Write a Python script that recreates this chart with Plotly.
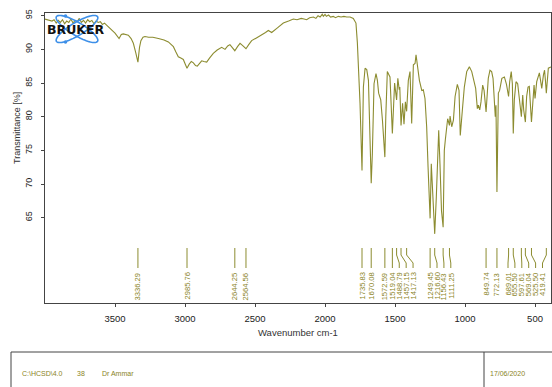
import numpy as np
import plotly.graph_objects as go

# ---- spectrum (wavenumber cm-1, transmittance %) ----
wavenumber = [
    4000, 3975, 3950, 3935, 3920, 3905, 3890, 3875, 3860, 3845, 3830, 3815, 3800,
    3785, 3770, 3755, 3740, 3725, 3710, 3695, 3680, 3665, 3650, 3635, 3620, 3605,
    3590, 3575, 3559, 3530, 3500, 3471, 3455, 3441, 3420, 3405, 3385, 3369, 3352,
    3336.29, 3325, 3315, 3300, 3286, 3260, 3230, 3190, 3150, 3119, 3100, 3083,
    3065, 3048, 3030, 3012, 2998, 2985.76, 2970, 2955, 2940, 2925, 2912, 2895,
    2881, 2865, 2845, 2825, 2798, 2770, 2738, 2714, 2695, 2679, 2665, 2644.25,
    2625, 2607, 2590, 2564.56, 2545, 2524, 2490, 2452, 2425, 2405, 2381, 2340,
    2298, 2260, 2226, 2200, 2170, 2150, 2131, 2110, 2083, 2065, 2050, 2035, 2020,
    2012, 2000, 1990, 1975, 1960, 1941, 1925, 1905, 1885, 1865, 1845, 1821, 1798,
    1779, 1769, 1762, 1750, 1735.83, 1726, 1714, 1702, 1690, 1670.08, 1662, 1650,
    1636, 1626, 1617, 1602, 1590, 1572.59, 1566, 1555, 1543, 1536, 1519.04, 1512,
    1503, 1488.79, 1480, 1470, 1466, 1457.15, 1446, 1436, 1426, 1417.13, 1405,
    1393, 1381, 1369, 1357, 1350, 1338, 1326, 1309, 1298, 1286, 1274, 1264,
    1249.45, 1241, 1231, 1216.60, 1205, 1188, 1179, 1168, 1156.43, 1148, 1141,
    1131, 1124, 1111.25, 1107, 1095, 1083, 1071, 1055, 1043, 1034, 1019, 1005,
    988, 969, 952, 934, 924, 912, 905, 895, 886, 874, 864, 849.74, 842, 834, 822,
    810, 800, 791, 784, 779, 772.13, 762, 753, 737, 719, 704, 689.01, 681, 670,
    662, 655.50, 648, 636, 624, 609, 597.61, 588, 581, 569.04, 560, 550, 541,
    525.50, 516, 507, 500, 488, 469, 452, 440, 432, 425, 419.41, 405, 386,
]
transmittance = [
    94.5, 94.4, 94.2, 94.4, 93.9, 94.3, 94.0, 94.4, 93.8, 94.2, 94.0, 94.5, 93.9,
    94.3, 94.1, 94.6, 94.0, 94.3, 93.9, 94.4, 94.1, 94.3, 93.8, 94.2, 94.0, 94.1,
    93.7, 93.9, 93.6, 93.0, 92.4, 91.6, 92.2, 92.3, 92.2, 92.1, 91.6, 90.9, 89.5,
    88.1, 90.3, 91.3, 91.8, 91.9, 91.8, 91.8, 91.6, 91.4, 91.1, 90.8, 90.4,
    89.6, 88.9, 88.7, 88.5, 87.8, 87.2, 87.8, 88.2, 88.0, 87.6, 87.5, 88.0,
    88.3, 88.2, 88.1, 88.7, 89.4, 89.9, 90.3, 90.0, 90.5, 90.7, 90.3, 89.8,
    90.4, 90.9, 90.6, 90.1, 90.7, 91.3, 91.7, 92.1, 92.5, 92.8, 92.5, 93.2,
    93.9, 94.2, 94.5, 94.4, 94.6, 94.5, 94.4, 94.7, 94.8, 94.6, 95.0, 94.8, 95.2,
    94.9, 95.2, 94.9, 95.1, 94.8, 94.9, 94.7, 94.9, 94.8, 94.9, 94.8, 94.8, 94.6,
    93.9, 91.0, 88.4, 82.0, 72.0, 84.4, 87.2, 87.0, 85.4, 70.1, 74.5, 84.9,
    86.4, 85.4, 83.5, 82.5, 79.5, 74.0, 80.0, 86.7, 86.2, 85.9, 77.5, 81.5,
    85.0, 82.5, 85.7, 84.0, 84.4, 78.7, 82.0, 78.9, 82.2, 80.8, 85.4,
    86.7, 79.0, 87.7, 87.9, 89.2, 87.2, 85.4, 83.9, 84.0, 82.7, 78.5, 72.5,
    64.9, 73.0, 69.1, 62.6, 68.1, 78.0, 73.0, 66.0, 63.6, 75.0, 76.5,
    78.5, 79.7, 78.7, 80.1, 78.5, 79.5, 83.0, 84.8, 83.9, 77.2, 81.0, 84.4,
    86.7, 87.4, 86.7, 85.2, 84.2, 81.2, 81.7, 81.0, 82.2, 84.7, 83.9, 80.7, 83.5, 85.7, 86.9,
    86.7, 85.7, 82.5, 80.0, 81.7, 68.8, 83.5, 83.9, 85.7, 85.9, 84.8, 83.0, 85.2, 86.7,
    84.9, 77.5, 82.5, 85.2, 84.9, 81.5, 80.0, 83.2, 81.0, 79.2, 83.0, 84.4, 84.5,
    79.2, 82.5, 84.7, 82.7, 85.2, 86.5, 84.2, 86.2, 86.9, 85.2, 83.5, 87.2, 87.4,
]

# ---- picked peaks ----
peak_labels = [
    "3336.29", "2985.76", "2644.25", "2564.56", "1735.83", "1670.08", "1572.59",
    "1519.04", "1488.79", "1457.15", "1417.13", "1249.45", "1216.60", "1156.43",
    "1111.25", "849.74", "772.13", "689.01", "655.50", "597.61", "569.04",
    "525.50", "419.41",
]
peak_wn = [float(s) for s in peak_labels]

x_ticks = [3500, 3000, 2500, 2000, 1500, 1000, 500]
y_ticks = [65, 70, 75, 80, 85, 90, 95]

footer_id = "C:\\HCSD\\4.0"
footer_no = "38"
footer_user = "Dr Ammar"
footer_date = "17/06/2020"

# ---- layout geometry (pixels) ----
W, H = 552, 387
L, R, T, B = 45, 551, 13, 303
X_RANGE = [4000, 386]
Y_RANGE = [52.33, 95.40]
OLIVE = "#8c8c30"
TEXT_OLIVE = "#8a8426"
FRAME = "#444444"


def px(xpix):
    return (xpix - L) / (R - L)


def py(ypix):
    return (B - ypix) / (B - T)


def wn_per_px():
    return (X_RANGE[0] - X_RANGE[1]) / (R - L)


# spread the peak labels so they don't collide, keeping them inside the frame
gap = 6.9 * wn_per_px()
min_wn = X_RANGE[1] + 8.5 * wn_per_px()
order = np.argsort(peak_wn)[::-1]
pos = [peak_wn[i] for i in order]
for k in range(1, len(pos)):
    pos[k] = min(pos[k], pos[k - 1] - gap)
if pos[-1] < min_wn:
    pos[-1] = min_wn
for k in range(len(pos) - 2, -1, -1):
    pos[k] = max(pos[k], pos[k + 1] + gap)
label_pos = [0.0] * len(pos)
for k, i in enumerate(order):
    label_pos[i] = pos[k]

fig = go.Figure()
fig.add_trace(go.Scatter(
    x=wavenumber, y=transmittance, mode="lines",
    line=dict(color=OLIVE, width=1.1), hoverinfo="skip", showlegend=False,
))

shapes = []
annotations = []

# peak marker lines and labels
y_top, y_b1, y_b2, y_bot = py(248), py(255), py(263), py(268)
for wn, lx, txt in zip(peak_wn, label_pos, peak_labels):
    path = f"M {wn},{y_top} L {wn},{y_b1} L {lx},{y_b2} L {lx},{y_bot}"
    shapes.append(dict(type="path", path=path, xref="x", yref="paper",
                       line=dict(color=OLIVE, width=1)))
    annotations.append(dict(
        x=lx, y=py(271), xref="x", yref="paper", text=txt, showarrow=False,
        textangle=-90, xanchor="center", yanchor="top",
        font=dict(family="Liberation Sans", size=7.6, color=TEXT_OLIVE),
    ))

# Bruker logo: two crossed orbits
cx, cy, a, b = 77, 29, 24, 6.5
t = np.linspace(0, 2 * np.pi, 80)
for ang in (31, -31):
    th = np.radians(ang)
    ex = cx + a * np.cos(t) * np.cos(th) - b * np.sin(t) * np.sin(th)
    ey = cy + a * np.cos(t) * np.sin(th) + b * np.sin(t) * np.cos(th)
    pts = " L ".join(f"{px(u):.5f},{py(v):.5f}" for u, v in zip(ex, ey))
    shapes.append(dict(type="path", path=f"M {pts} Z", xref="paper", yref="paper",
                       line=dict(color="#3d8fe8", width=1.6)))
for dx, dy in [(65.5, 16.0), (65.5, 42.0)]:
    shapes.append(dict(type="circle", xref="paper", yref="paper",
                       x0=px(dx - 1.8), x1=px(dx + 1.8), y0=py(dy + 1.8), y1=py(dy - 1.8),
                       fillcolor="#3d8fe8", line=dict(width=0)))
annotations.append(dict(
    x=px(76), y=py(29.5), xref="paper", yref="paper", text="<b>BRUKER</b>",
    showarrow=False, xanchor="center", yanchor="middle",
    font=dict(family="DejaVu Sans", size=12.5, color="#111111"),
))

# axis titles
annotations.append(dict(
    x=px(17), y=py(128), xref="paper", yref="paper", text="Transmittance [%]",
    showarrow=False, textangle=-90, xanchor="center", yanchor="middle",
    font=dict(family="Liberation Sans", size=9, color="#333333"),
))
annotations.append(dict(
    x=px(298), y=py(332), xref="paper", yref="paper", text="Wavenumber cm-1",
    showarrow=False, xanchor="center", yanchor="middle",
    font=dict(family="Liberation Sans", size=9.5, color="#333333"),
))

# footer box
for x0, y0, x1, y1 in [(11, 352, 600, 352), (11, 352, 11, 420), (484, 352, 484, 420)]:
    shapes.append(dict(type="line", xref="paper", yref="paper",
                       x0=px(x0), y0=py(y0), x1=px(x1), y1=py(y1),
                       line=dict(color=FRAME, width=1)))
for xpix, txt in [(20, footer_id), (75, footer_no), (100, footer_user), (488, footer_date)]:
    annotations.append(dict(
        x=px(xpix), y=py(373), xref="paper", yref="paper", text=txt,
        showarrow=False, xanchor="left", yanchor="middle",
        font=dict(family="Liberation Sans", size=7, color=TEXT_OLIVE),
    ))

fig.update_layout(
    width=W, height=H,
    margin=dict(l=L, r=W - R, t=T, b=H - B, pad=0),
    paper_bgcolor="white", plot_bgcolor="white",
    shapes=shapes, annotations=annotations, showlegend=False,
)
fig.update_xaxes(
    range=X_RANGE, tickvals=x_ticks, ticktext=[str(v) for v in x_ticks],
    showgrid=False, zeroline=False, showline=True, mirror=True,
    linecolor=FRAME, linewidth=1, ticks="outside", ticklen=3, tickcolor=FRAME,
    tickfont=dict(family="Liberation Sans", size=9.5, color="#222222"),
    ticklabelstandoff=4,
)
fig.update_yaxes(
    range=Y_RANGE, tickvals=y_ticks, ticktext=[str(v) for v in y_ticks],
    showgrid=False, zeroline=False, showline=True, mirror=True,
    linecolor=FRAME, linewidth=1, ticks="outside", ticklen=3, tickcolor=FRAME,
    tickangle=-90,
    tickfont=dict(family="Liberation Sans", size=9, color="#222222"),
    ticklabelstandoff=5,
)

fig.write_html("out.html")
